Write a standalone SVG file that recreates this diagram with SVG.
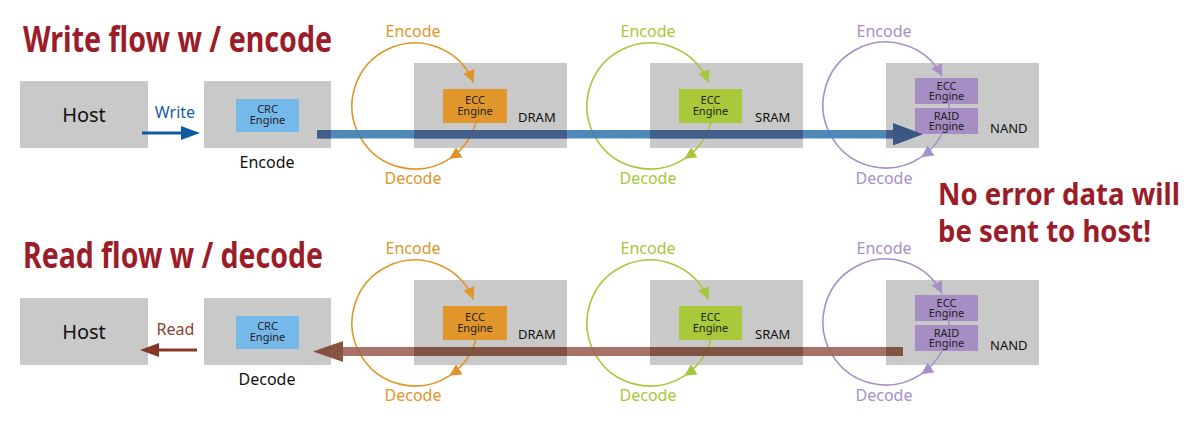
<svg xmlns="http://www.w3.org/2000/svg" width="1200" height="432" viewBox="0 0 1200 432">
<style>
text{font-family:"Noto Sans","Open Sans","DejaVu Sans",sans-serif}
.box{fill:#c9c9c9}
.title{font-weight:bold;font-size:35px;fill:#9b1d29}
.note{font-weight:bold;font-size:31px;fill:#9b1d29}
.host{font-size:20px;fill:#111;text-anchor:middle}
.lbl{font-size:16px;text-anchor:middle}
.mem{font-size:13px;fill:#111}
.eng{font-size:11px;fill:#222;text-anchor:middle}
.crc{fill:#74b9ea}
.eo{fill:#e0962b}
.eg{fill:#a9c93a}
.ep{fill:#a68dc4}
.co{fill:none;stroke:#e0952a;stroke-width:1.6}
.cg{fill:none;stroke:#a8c73a;stroke-width:1.6}
.cp{fill:none;stroke:#a78fc8;stroke-width:1.6}
</style>
<defs>
<marker id="mo" markerUnits="userSpaceOnUse" markerWidth="14" markerHeight="12" refX="12" refY="6" orient="auto" viewBox="0 0 14 12"><path d="M0,0 L12,6 L0,12 z" fill="#e0952a"/></marker>
<marker id="mg" markerUnits="userSpaceOnUse" markerWidth="14" markerHeight="12" refX="12" refY="6" orient="auto" viewBox="0 0 14 12"><path d="M0,0 L12,6 L0,12 z" fill="#a8c73a"/></marker>
<marker id="mp" markerUnits="userSpaceOnUse" markerWidth="14" markerHeight="12" refX="12" refY="6" orient="auto" viewBox="0 0 14 12"><path d="M0,0 L12,6 L0,12 z" fill="#a78fc8"/></marker>
</defs>

<text class="title" x="23" y="52" textLength="309" lengthAdjust="spacingAndGlyphs">Write flow w / encode</text>
<text class="title" x="23" y="268" textLength="300" lengthAdjust="spacingAndGlyphs">Read flow w / decode</text>
<text class="note" x="938" y="205" textLength="242" lengthAdjust="spacingAndGlyphs">No error data will</text>
<text class="note" x="938" y="242" textLength="213" lengthAdjust="spacingAndGlyphs">be sent to host!</text>

<!-- Write row nodes -->
<g id="host-w"><rect class="box" x="20" y="81" width="128" height="67"/><text class="host" x="84" y="122">Host</text></g>
<g id="crc-w"><rect class="box" x="204" y="81" width="127" height="67"/><rect class="crc" x="236" y="99" width="63" height="33"/><text class="eng" x="267.5" y="113">CRC<tspan x="267.5" dy="11">Engine</tspan></text><text class="lbl" x="267" y="168" fill="#111">Encode</text></g>
<g id="dram-w"><rect class="box" x="414" y="63" width="153" height="85"/><text class="mem" x="518" y="122">DRAM</text></g>
<g id="dram-ecc-w"><rect class="eo" x="443" y="89" width="64" height="34"/><text class="eng" x="475" y="104">ECC<tspan x="475" dy="11">Engine</tspan></text></g>
<g id="sram-w"><rect class="box" x="650" y="63" width="153" height="85"/><text class="mem" x="755" y="122">SRAM</text></g>
<g id="sram-ecc-w"><rect class="eg" x="679" y="89" width="63" height="34"/><text class="eng" x="710.5" y="104">ECC<tspan x="710.5" dy="11">Engine</tspan></text></g>
<g id="nand-w"><rect class="box" x="886" y="63" width="153" height="85"/><text class="mem" x="990" y="133">NAND</text></g>
<g id="nand-ecc-w"><rect class="ep" x="915" y="78" width="63" height="26"/><text class="eng" x="946.5" y="90">ECC<tspan x="946.5" dy="10">Engine</tspan></text></g>
<g id="nand-raid-w"><rect class="ep" x="915" y="108" width="63" height="26"/><text class="eng" x="946.5" y="120">RAID<tspan x="946.5" dy="10">Engine</tspan></text></g>

<!-- Read row nodes -->
<g id="host-r"><rect class="box" x="20" y="298" width="128" height="67"/><text class="host" x="84" y="339">Host</text></g>
<g id="crc-r"><rect class="box" x="204" y="298" width="127" height="67"/><rect class="crc" x="236" y="316" width="63" height="33"/><text class="eng" x="267.5" y="330">CRC<tspan x="267.5" dy="11">Engine</tspan></text><text class="lbl" x="267" y="385" fill="#111">Decode</text></g>
<g id="dram-r"><rect class="box" x="414" y="280" width="153" height="85"/><text class="mem" x="518" y="339">DRAM</text></g>
<g id="dram-ecc-r"><rect class="eo" x="443" y="306" width="64" height="34"/><text class="eng" x="475" y="321">ECC<tspan x="475" dy="11">Engine</tspan></text></g>
<g id="sram-r"><rect class="box" x="650" y="280" width="153" height="85"/><text class="mem" x="755" y="339">SRAM</text></g>
<g id="sram-ecc-r"><rect class="eg" x="679" y="306" width="63" height="34"/><text class="eng" x="710.5" y="321">ECC<tspan x="710.5" dy="11">Engine</tspan></text></g>
<g id="nand-r"><rect class="box" x="886" y="280" width="153" height="85"/><text class="mem" x="990" y="350">NAND</text></g>
<g id="nand-ecc-r"><rect class="ep" x="915" y="295" width="63" height="26"/><text class="eng" x="946.5" y="307">ECC<tspan x="946.5" dy="10">Engine</tspan></text></g>
<g id="nand-raid-r"><rect class="ep" x="915" y="325" width="63" height="26"/><text class="eng" x="946.5" y="337">RAID<tspan x="946.5" dy="10">Engine</tspan></text></g>

<g id="connectors">
  <g class="lbl">
    <text x="413" y="37" fill="#e0952a">Encode</text><text x="413" y="184" fill="#e0952a">Decode</text>
    <text x="648" y="37" fill="#a8c73a">Encode</text><text x="648" y="184" fill="#a8c73a">Decode</text>
    <text x="884" y="37" fill="#a78fc8">Encode</text><text x="884" y="184" fill="#a78fc8">Decode</text>
    <text x="413" y="254" fill="#e0952a">Encode</text><text x="413" y="401" fill="#e0952a">Decode</text>
    <text x="648" y="254" fill="#a8c73a">Encode</text><text x="648" y="401" fill="#a8c73a">Decode</text>
    <text x="884" y="254" fill="#a78fc8">Encode</text><text x="884" y="401" fill="#a78fc8">Decode</text>
  </g>
  <path class="co" d="M449.3,158.8 A63,63 0 1 1 473.4,82.4" marker-end="url(#mo)"/>
  <path class="co" d="M475.7,123 A63,63 0 0 1 449.3,158.8" marker-end="url(#mo)"/>
  <path class="cg" d="M684.3,158.8 A63,63 0 1 1 708.4,82.4" marker-end="url(#mg)"/>
  <path class="cg" d="M710.7,123 A63,63 0 0 1 684.3,158.8" marker-end="url(#mg)"/>
  <path class="cp" d="M921.2,157.2 A63,63 0 1 1 942.1,76.4" marker-end="url(#mp)"/>
  <path class="cp" d="M941.9,134 A63,63 0 0 1 921.2,157.2" marker-end="url(#mp)"/>
  <path class="cp" d="M949,104 L948.9,108"/>
  <path class="co" d="M449.3,375.8 A63,63 0 1 1 473.4,299.4" marker-end="url(#mo)"/>
  <path class="co" d="M475.7,340 A63,63 0 0 1 449.3,375.8" marker-end="url(#mo)"/>
  <path class="cg" d="M684.3,375.8 A63,63 0 1 1 708.4,299.4" marker-end="url(#mg)"/>
  <path class="cg" d="M710.7,340 A63,63 0 0 1 684.3,375.8" marker-end="url(#mg)"/>
  <path class="cp" d="M921.2,374.2 A63,63 0 1 1 942.1,293.4" marker-end="url(#mp)"/>
  <path class="cp" d="M941.9,351 A63,63 0 0 1 921.2,374.2" marker-end="url(#mp)"/>
  <path class="cp" d="M949,321 L948.9,325"/>

  <line x1="142" y1="133" x2="184" y2="133" stroke="#0e5ba4" stroke-width="3"/>
  <polygon points="181,126 200,133 181,140" fill="#0e5ba4"/>
  <text class="lbl" x="175" y="118" fill="#1a5c9e">Write</text>
  <line x1="197" y1="350" x2="156" y2="350" stroke="#86392a" stroke-width="3"/>
  <polygon points="159,343 140,350 159,357" fill="#86392a"/>
  <text class="lbl" x="175.5" y="335" fill="#8a3f30">Read</text>

  <g opacity="0.92">
    <rect x="317" y="130" width="577" height="8.5" fill="#3f7fb5"/>
    <rect x="317" y="130" width="14" height="8.5" fill="#385585"/>
    <rect x="414" y="130" width="153" height="8.5" fill="#385585"/>
    <rect x="650" y="130" width="153" height="8.5" fill="#385585"/>
    <rect x="886" y="130" width="8" height="8.5" fill="#385585"/>
    <polygon points="893,123 923,134.2 893,145.5" fill="#2f4f80"/>
  </g>
  <g opacity="0.92">
    <rect x="342" y="347" width="561" height="9" fill="#a1675c"/>
    <rect x="414" y="347" width="153" height="9" fill="#7a4937"/>
    <rect x="650" y="347" width="153" height="9" fill="#7a4937"/>
    <rect x="886" y="347" width="17" height="9" fill="#7a4937"/>
    <polygon points="343,341 313,351.5 343,362" fill="#7e4632"/>
  </g>
</g>
</svg>
